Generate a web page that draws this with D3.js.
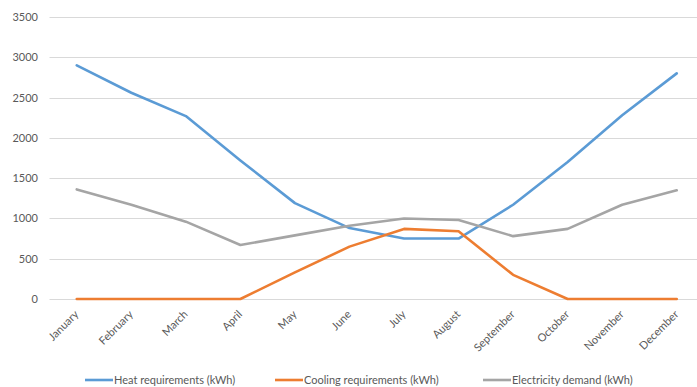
<!DOCTYPE html>
<html>
<head>
<meta charset="utf-8">
<script src="https://cdn.jsdelivr.net/npm/d3@7"></script>
<style>
  html, body { margin: 0; padding: 0; background: #fff; }
  svg text { font-family: Lato, "Open Sans", sans-serif; fill: #595959; }
</style>
</head>
<body>
<svg id="chart" width="697" height="387"></svg>
<script>
// Monthly energy profile
const months = ["January", "February", "March", "April", "May", "June",
  "July", "August", "September", "October", "November", "December"];
const heatReq = [2900, 2560, 2270, 1720, 1190, 880, 750, 750, 1170, 1700, 2280, 2800];
const coolingReq = [0, 0, 0, 0, 330, 650, 870, 840, 300, 0, 0, 0];
const electricity = [1360, 1170, 960, 670, 790, 910, 1000, 980, 780, 870, 1170, 1350];
const yTicks = [0, 500, 1000, 1500, 2000, 2500, 3000, 3500];

const seriesNames = ["Heat requirements (kWh)", "Cooling requirements (kWh)", "Electricity demand (kWh)"];
const seriesColors = ["#5B9BD5", "#ED7D31", "#A5A5A5"];

const series = [heatReq, coolingReq, electricity].map((vals, i) => ({
  name: seriesNames[i], color: seriesColors[i], values: vals
}));

const svg = d3.select("#chart");
const plot = { left: 49.5, right: 704, top: 17, bottom: 299 };

const x = d3.scalePoint().domain(months).range([plot.left, plot.right]).padding(0.5);
const y = d3.scaleLinear().domain([0, 3500]).range([plot.bottom, plot.top]);

// Horizontal gridlines
svg.append("g").selectAll("line").data(yTicks).join("line")
  .attr("x1", plot.left).attr("x2", plot.right)
  .attr("y1", d => Math.round(y(d)) + 0.5).attr("y2", d => Math.round(y(d)) + 0.5)
  .attr("stroke", "#d9d9d9").attr("stroke-width", 1);

// Y axis labels
const yAxis = d3.axisLeft(y).tickValues(yTicks).tickFormat(d3.format("d")).tickSize(0).tickPadding(0);
const yg = svg.append("g").attr("transform", "translate(38,0)").call(yAxis);
yg.select(".domain").remove();
yg.selectAll("text").style("font-size", "11px").attr("fill", "#595959");

// X axis labels, rotated
const xAxis = d3.axisBottom(x).tickSize(0).tickPadding(0);
const xg = svg.append("g").attr("transform", `translate(0,${plot.bottom})`).call(xAxis);
xg.select(".domain").remove();
xg.selectAll("text")
  .style("font-size", "11px").attr("fill", "#595959")
  .attr("text-anchor", "end")
  .attr("dy", null).attr("y", 0)
  .attr("transform", "translate(2,16) rotate(-45)");

// Series lines
const line = d3.line()
  .x((d, i) => x(months[i]))
  .y(d => y(d))
  .curve(d3.curveLinear);

svg.append("g").selectAll("path").data(series).join("path")
  .attr("d", d => line(d.values))
  .attr("fill", "none")
  .attr("stroke", d => d.color)
  .attr("stroke-width", 2.6)
  .attr("stroke-linejoin", "round")
  .attr("stroke-linecap", "round");

// Legend
const legendX = [85, 275, 483];
const legend = svg.append("g").selectAll("g").data(series).join("g")
  .attr("transform", (d, i) => `translate(${legendX[i]},380)`);
legend.append("line")
  .attr("x1", 0).attr("x2", 28).attr("y1", 0).attr("y2", 0)
  .attr("stroke", d => d.color).attr("stroke-width", 2.6);
legend.append("text")
  .attr("x", 29).attr("y", 0).attr("dy", "0.35em")
  .style("font-size", "11px")
  .text(d => d.name);
</script>
</body>
</html>
